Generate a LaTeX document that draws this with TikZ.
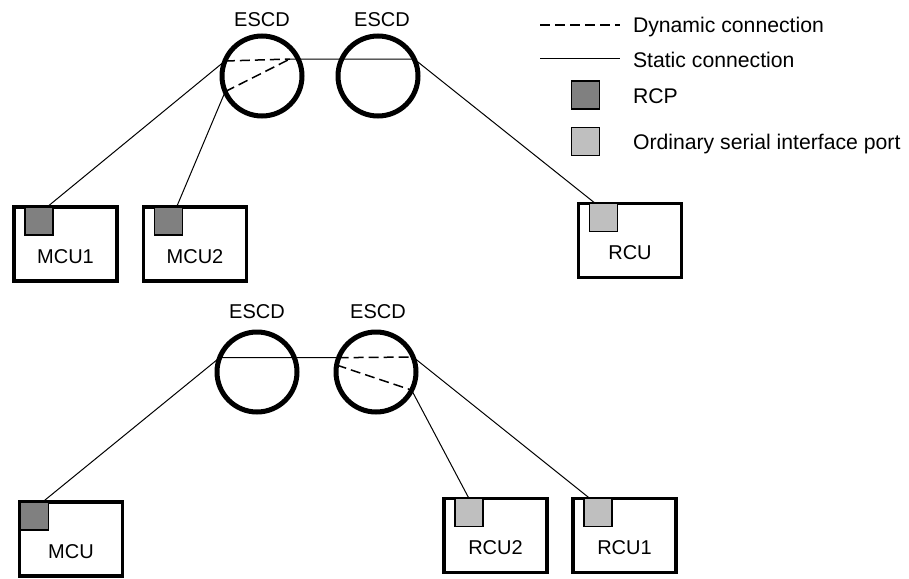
\documentclass[tikz,border=0pt]{standalone}
\usepackage{fontspec}
\setmainfont{Liberation Sans}
\usetikzlibrary{positioning}
\definecolor{rcpgray}{gray}{0.5}
\definecolor{sergray}{gray}{0.75}

\begin{document}
\begin{tikzpicture}[x=0.5pt, y=-0.5pt, font=\fontsize{10}{12}\selectfont,
    escd/.style={draw, circle, line width=2.5pt, minimum size=40pt, inner sep=0pt, outer sep=0pt},
    unit/.style={draw, rectangle, line width=1.7pt, minimum width=51.5pt, minimum height=37pt,
      inner sep=0pt, outer sep=0pt},
    port/.style={draw, rectangle, line width=0.8pt, minimum size=14pt, inner sep=0pt, outer sep=0pt},
    tag/.style={inner sep=0pt, outer sep=0pt, text height=7.2pt, text depth=0pt},
    keytext/.style={tag, anchor=west, font=\fontsize{10.6}{12}\selectfont},
    link/.style={line width=0.5pt},
    dyn/.style={line width=0.75pt, dash pattern=on 5pt off 2.5pt}]
  % coordinates are in pixels of the 909 x 578 sheet, y running downwards
  \useasboundingbox (0,0) rectangle (909,578);
  % the terminal units: box, port in its upper left corner, name below the port
  \foreach \name/\x/\y/\dx/\col/\txt in {mcua/65.5/244/5.5pt/rcpgray/MCU1, mcub/195/244/5.5pt/rcpgray/MCU2,
      rcu/630/240.5/5.5pt/sergray/RCU, mcu/71/539/0.5pt/rcpgray/MCU,
      rcub/495.5/535.5/5.5pt/sergray/RCU2, rcua/624.5/535.5/5.5pt/sergray/RCU1} {
    \node[unit] (\name) at (\x,\y) {};
    \node[port, fill=\col, below right=0pt and \dx of \name.north west] (\name-p) {};
    \node[tag] (\name-lbl) at (\x,\y+12) {\txt};
  }
  % (a) two ESCDs, the first one switching MCU1 or MCU2 onto the RCU
  \begin{scope}
    \node[escd] (ea) at (262,76) {};
    \node[escd] (eb) at (378,76) {};
    \node[tag, above=5pt of ea] (ea-lbl) {ESCD};
    \node[tag, above=5pt of eb, xshift=2pt] (eb-lbl) {ESCD};
    \coordinate (ja) at (290,59);
    \draw[link] (ea.158) -- (mcua-p.60);
    \draw[link] (ea.203) -- (mcub-p.60);
    \draw[dyn] (ea.158) -- (ja);
    \draw[dyn] (ea.203) -- (ja);
    \draw[link] (ja) -- (eb.25) -- (rcu-p.120);
  \end{scope}
  % (b) the second ESCD switching the MCU onto RCU1 or RCU2
  \begin{scope}
    \node[escd] (ec) at (257,372) {};
    \node[escd] (ed) at (376,372) {};
    \node[tag, above=7pt of ec] (ec-lbl) {ESCD};
    \node[tag, above=7pt of ed, xshift=1pt] (ed-lbl) {ESCD};
    \draw[link] (mcu-p.60) -- (ec.159) -- (ed.159);
    \draw[dyn] (ed.159) -- (ed.22);
    \draw[dyn] (ed.170) -- (ed.333);
    \draw[link] (ed.22) -- (rcua-p.120);
    \draw[link] (ed.333) -- (rcub-p.north);
  \end{scope}
  % key
  \coordinate (dyn-a) at (540,25);
  \coordinate (dyn-b) at (620,25);
  \coordinate (sta-a) at (540,58);
  \coordinate (sta-b) at (620,58);
  \draw[dyn] (dyn-a) -- (dyn-b);
  \draw[link] (sta-a) -- (sta-b);
  \node[keytext] (dyn-txt) at (633,25) {Dynamic connection};
  \node[keytext] (sta-txt) at (633,60) {Static connection};
  \node[port, fill=rcpgray] (rcp-key) at (585.5,95) {};
  \node[port, fill=sergray] (ser-key) at (585.5,141.5) {};
  \node[keytext] (rcp-txt) at (633,96) {RCP};
  \node[keytext] (ser-txt) at (633,142) {Ordinary serial interface port};
\end{tikzpicture}
\end{document}
